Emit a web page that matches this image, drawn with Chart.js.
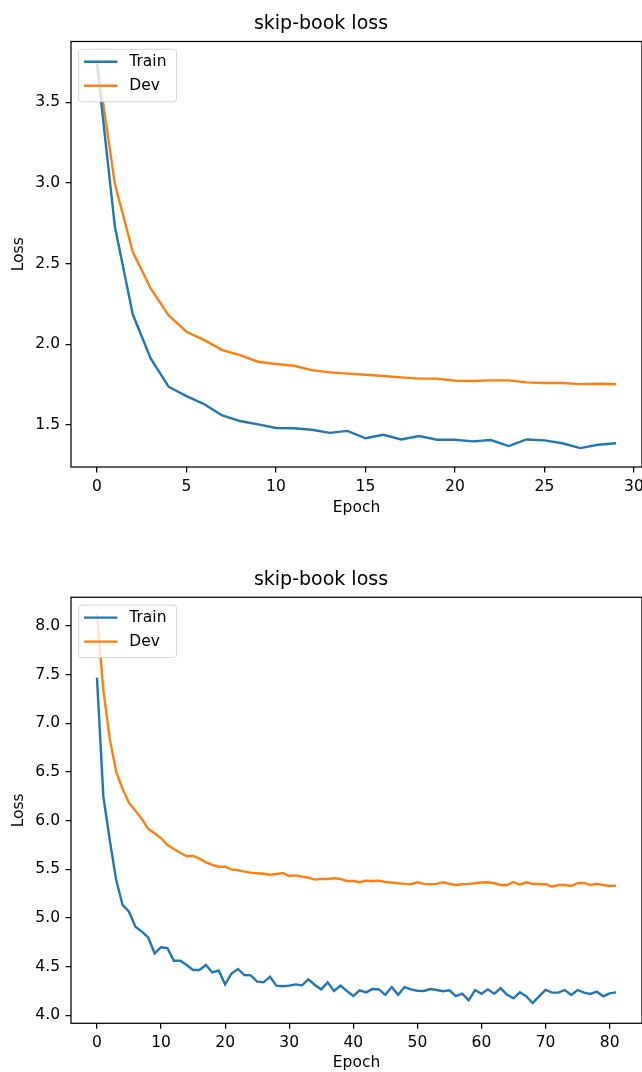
<!DOCTYPE html>
<html>
<head>
<meta charset="utf-8">
<script src="https://cdn.jsdelivr.net/npm/chart.js@4"></script>
<style>
  html, body { margin: 0; padding: 0; background: #fff; }
  body { width: 642px; height: 1072px; position: relative; overflow: hidden; }
  canvas { position: absolute; left: 0; }
  #lossShort { top: 0; }
  #lossLong { top: 536px; }
</style>
</head>
<body>
<canvas id="lossShort" width="642" height="536"></canvas>
<canvas id="lossLong" width="642" height="536"></canvas>
<script>
// --- data ---
const TITLE = 'skip-book loss';
const SERIES_NAMES = ['Train', 'Dev'];

// first run: 30 epochs
const epochsShort = [0, 1, 2, 3, 4, 5, 6, 7, 8, 9, 10, 11, 12, 13, 14, 15, 16, 17, 18, 19,
  20, 21, 22, 23, 24, 25, 26, 27, 28, 29];
const trainShort = [3.74, 2.73, 2.185, 1.912, 1.736, 1.678, 1.627, 1.558, 1.523, 1.502,
  1.48, 1.478, 1.469, 1.45, 1.462, 1.416, 1.438, 1.409, 1.43, 1.407,
  1.407, 1.397, 1.405, 1.368, 1.409, 1.403, 1.385, 1.355, 1.376, 1.385];
const devShort = [3.76, 2.995, 2.573, 2.346, 2.18, 2.077, 2.025, 1.963, 1.932, 1.891,
  1.877, 1.866, 1.839, 1.825, 1.817, 1.81, 1.802, 1.794, 1.786, 1.786,
  1.773, 1.771, 1.775, 1.775, 1.763, 1.759, 1.759, 1.752, 1.754, 1.751];

// second run: 82 epochs
const epochsLong = [0, 1, 2, 3, 4, 5, 6, 7, 8, 9, 10, 11, 12, 13, 14, 15, 16, 17, 18, 19,
  20, 21, 22, 23, 24, 25, 26, 27, 28, 29, 30, 31, 32, 33, 34, 35, 36, 37, 38, 39,
  40, 41, 42, 43, 44, 45, 46, 47, 48, 49, 50, 51, 52, 53, 54, 55, 56, 57, 58, 59,
  60, 61, 62, 63, 64, 65, 66, 67, 68, 69, 70, 71, 72, 73, 74, 75, 76, 77, 78, 79, 80, 81];
const trainLong = [7.47, 6.247, 5.80, 5.39, 5.134, 5.065, 4.91, 4.86, 4.80, 4.637,
  4.70, 4.69, 4.56, 4.56, 4.517, 4.466, 4.466, 4.517, 4.44, 4.46,
  4.318, 4.43, 4.476, 4.414, 4.411, 4.346, 4.339, 4.397, 4.305, 4.298,
  4.305, 4.318, 4.308, 4.37, 4.312, 4.267, 4.339, 4.25, 4.305, 4.25,
  4.20, 4.257, 4.236, 4.27, 4.267, 4.21, 4.29, 4.21, 4.29, 4.267,
  4.253, 4.25, 4.27, 4.26, 4.247, 4.257, 4.198, 4.222, 4.154, 4.26,
  4.222, 4.267, 4.222, 4.28, 4.21, 4.175, 4.236, 4.195, 4.126, 4.195,
  4.26, 4.233, 4.233, 4.26, 4.21, 4.26, 4.233, 4.22, 4.243, 4.195, 4.226, 4.236];
const devLong = [8.12, 7.344, 6.84, 6.504, 6.326, 6.185, 6.103, 6.017, 5.915, 5.87,
  5.819, 5.75, 5.709, 5.671, 5.634, 5.637, 5.61, 5.572, 5.545, 5.527,
  5.527, 5.50, 5.49, 5.476, 5.466, 5.459, 5.455, 5.445, 5.452, 5.462,
  5.432, 5.438, 5.425, 5.414, 5.394, 5.401, 5.401, 5.408, 5.401, 5.38,
  5.38, 5.367, 5.384, 5.38, 5.384, 5.37, 5.364, 5.357, 5.35, 5.347,
  5.367, 5.35, 5.347, 5.35, 5.367, 5.35, 5.339, 5.347, 5.35, 5.357,
  5.364, 5.367, 5.357, 5.339, 5.339, 5.37, 5.343, 5.367, 5.35, 5.35,
  5.347, 5.322, 5.339, 5.339, 5.329, 5.357, 5.36, 5.339, 5.35, 5.339, 5.329, 5.333];

const BLUE = '#1f77b4';
const ORANGE = '#ff7f0e';
const FONT_FAMILY = 'DejaVu Sans';
const FONT_SIZE = 15.5;

Chart.defaults.font.family = FONT_FAMILY;
Chart.defaults.font.size = FONT_SIZE;
Chart.defaults.color = '#000';

// matplotlib-like frame (4 spines) + legend box in the upper-left corner
const frameAndLegend = {
  id: 'frameAndLegend',
  afterDatasetsDraw(chart) {
    const { ctx, chartArea: a } = chart;
    ctx.save();
    ctx.strokeStyle = '#000';
    ctx.lineWidth = 1.25;
    ctx.strokeRect(a.left, a.top, a.right - a.left, a.bottom - a.top);

    const bx = a.left + 7.5, by = a.top + 7.8;
    ctx.beginPath();
    ctx.roundRect(bx, by, 98, 52.5, 3);
    ctx.fillStyle = 'rgba(255,255,255,0.8)';
    ctx.fill();
    ctx.strokeStyle = 'rgba(204,204,204,0.8)';
    ctx.lineWidth = 1;
    ctx.stroke();

    ctx.font = `${FONT_SIZE}px "${FONT_FAMILY}"`;
    ctx.textBaseline = 'middle';
    chart.data.datasets.forEach((ds, i) => {
      const y = a.top + 20.3 + i * 24;
      ctx.strokeStyle = ds.borderColor;
      ctx.lineWidth = 2.4;
      ctx.beginPath();
      ctx.moveTo(a.left + 13, y);
      ctx.lineTo(a.left + 46.5, y);
      ctx.stroke();
      ctx.fillStyle = '#000';
      ctx.fillText(ds.label, a.left + 58.3, y);
    });
    ctx.restore();
  },
};

function renderLossChart(canvas, epochs, train, dev, o) {
  const tickGrid = { drawOnChartArea: false, color: '#000', lineWidth: 1.25, tickLength: 5.5 };
  return new Chart(canvas.getContext('2d'), {
    type: 'line',
    data: {
      labels: epochs,
      datasets: [
        { label: SERIES_NAMES[0], data: train, borderColor: BLUE, borderWidth: 2.4 },
        { label: SERIES_NAMES[1], data: dev, borderColor: ORANGE, borderWidth: 2.4 },
      ],
    },
    options: {
      responsive: false,
      animation: false,
      layout: { padding: 0 },
      elements: { point: { radius: 0 }, line: { tension: 0 } },
      plugins: {
        legend: { display: false },
        tooltip: { enabled: false },
        title: {
          display: true,
          text: TITLE,
          color: '#000',
          font: { size: 19, weight: 'normal' },
          padding: o.titlePad,
        },
      },
      scales: {
        x: {
          type: 'linear',
          min: o.xMin, max: o.xMax,
          grid: tickGrid,
          border: { display: false },
          ticks: { stepSize: o.xStep, includeBounds: false, padding: 5, maxRotation: 0,
                   callback: (v) => String(v) },
          title: { display: true, text: 'Epoch', padding: { top: 0, bottom: o.epochPad } },
          afterFit: (s) => { s.height = o.xAxisHeight; s.paddingLeft = 0; s.paddingRight = 0; },
        },
        y: {
          min: o.yMin, max: o.yMax,
          grid: tickGrid,
          border: { display: false },
          ticks: { stepSize: 0.5, includeBounds: false, padding: 5.5,
                   callback: (v) => v.toFixed(1) },
          title: { display: true, text: 'Loss', padding: { top: 9.5, bottom: 0 } },
          afterFit: (s) => { s.width = 71; s.paddingTop = 0; s.paddingBottom = 0; },
        },
      },
    },
    plugins: [frameAndLegend],
  });
}

renderLossChart(document.getElementById('lossShort'), epochsShort, trainShort, devShort, {
  xMin: -1.45, xMax: 30.45, xStep: 5,
  yMin: 1.238, yMax: 3.877,
  titlePad: { top: 12.8, bottom: 5.9 },
  xAxisHeight: 69, epochPad: 18.5,
});

renderLossChart(document.getElementById('lossLong'), epochsLong, trainLong, devLong, {
  xMin: -4.05, xMax: 85.05, xStep: 10,
  yMin: 3.918, yMax: 8.295,
  titlePad: { top: 32.6, bottom: 5.9 },
  xAxisHeight: 48.7, epochPad: 0,
});
</script>
</body>
</html>
